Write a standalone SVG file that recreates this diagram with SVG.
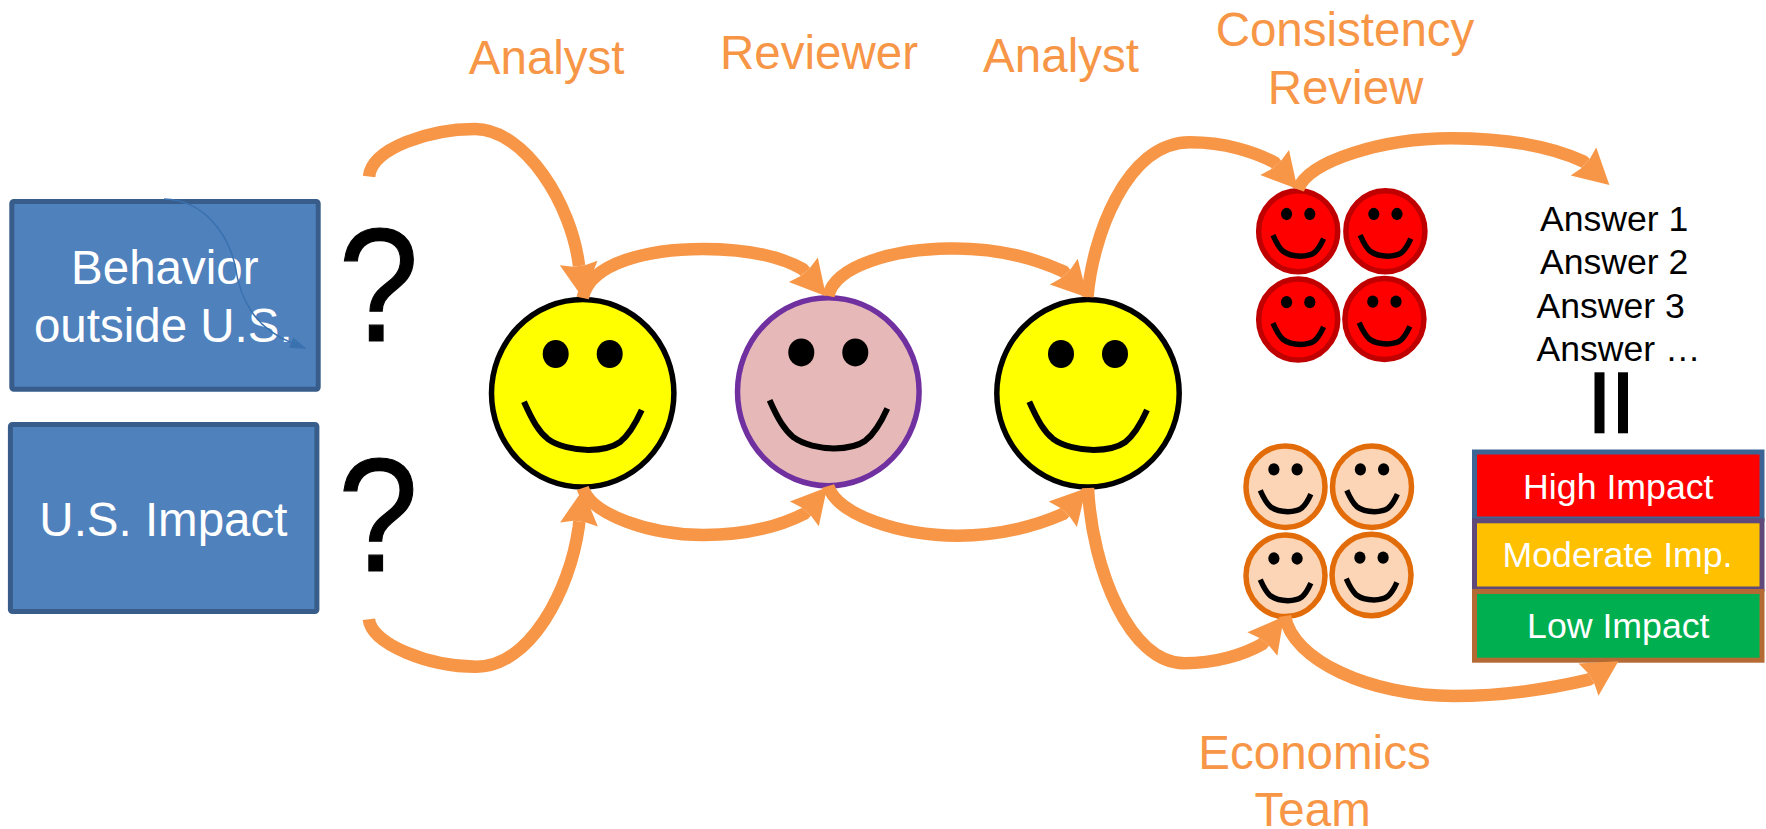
<svg xmlns="http://www.w3.org/2000/svg" xmlns:xlink="http://www.w3.org/1999/xlink" width="1766" height="829" viewBox="0 0 1766 829">
<style>
text{font-family:"Liberation Sans",Arial,sans-serif}
.lbl{fill:#f79646;font-size:47.5px;text-anchor:middle}
.box{fill:#4f81bd;stroke:#385d8a;stroke-width:5}
.boxt{fill:#fff;font-size:47.5px;text-anchor:middle}
.q{fill:#000;stroke:#000;stroke-width:1.2;font-size:162px;text-anchor:middle}
.ans{fill:#000;font-size:35.6px}
.imp{fill:#fff;font-size:35.7px;text-anchor:middle}
.mouth{fill:none;stroke:#000}
.big-f{stroke-width:6}
.small-f{stroke-width:12.5}
.yellow{fill:#ff0;stroke:#000;stroke-width:5.5}
.pink{fill:#e6b9b8;stroke:#7030a0;stroke-width:5.5}
.red{fill:#f00;stroke:#c00000;stroke-width:5.5}
.peach{fill:#fbd5b5;stroke:#e36c0a;stroke-width:5.5}
.conn{fill:none;stroke:#f79646;stroke-width:12.5;marker-end:url(#arrow)}
</style>
<defs>
<marker id="arrow" markerUnits="userSpaceOnUse" markerWidth="40" markerHeight="40" refX="3" refY="20" orient="auto" overflow="visible">
<path d="M0,1 L3,14 L3,26 L0,39 L35,20 Z" fill="#f79646"/>
</marker>
<marker id="thin" markerUnits="userSpaceOnUse" markerWidth="18" markerHeight="12" refX="1" refY="6" orient="auto">
<path d="M0,0.5 L17,6 L0,11.5 Z" fill="#3a72b0"/>
</marker>
<g id="features">
<ellipse cx="-27" cy="-39.3" rx="13" ry="14" stroke="none"/>
<ellipse cx="27" cy="-39.3" rx="13" ry="14" stroke="none"/>
<path class="mouth" d="M-58.7,8.5 C-50,28 -44,38 -35,45.5 C-25,53 -8,56.5 5.7,56.7 C20,56.5 30,54 37,49 C46,42 53,30 59,16.7"/>
</g>
</defs>
<rect width="1766" height="829" fill="#fff"/>

<g id="label-analyst-1"><text class="lbl" x="546.7" y="74">Analyst</text></g>
<g id="label-reviewer"><text class="lbl" x="819" y="69">Reviewer</text></g>
<g id="label-analyst-2"><text class="lbl" x="1061" y="71.7">Analyst</text></g>
<g id="label-consistency"><text class="lbl" x="1345" y="45.7">Consistency</text><text class="lbl" x="1345.5" y="103.7">Review</text></g>
<g id="label-economics"><text class="lbl" x="1314.5" y="769">Economics</text><text class="lbl" x="1312.7" y="826">Team</text></g>

<g id="box-behavior">
<rect class="box" x="11.8" y="201.5" width="306.4" height="187.7" rx="2"/>
<text class="boxt" x="164.8" y="284">Behavior</text>
<text class="boxt" x="163.3" y="341.7">outside U.S.</text>
<path d="M164,199 C205,200 228,235 235,265 C240,300 255,328 292,343" fill="none" stroke="#3a72b0" stroke-width="1.5" marker-end="url(#thin)"/>
</g>
<g id="box-impact">
<rect class="box" x="10.4" y="424.5" width="306.5" height="187" rx="2"/>
<text class="boxt" x="163.4" y="536">U.S. Impact</text>
</g>
<g id="question-1"><text class="q" transform="translate(378.5 341.2) scale(.89 1)">?</text></g>
<g id="question-2"><text class="q" transform="translate(378 571.2) scale(.89 1)">?</text></g>

<g id="face-analyst-1"><ellipse class="yellow" cx="582.7" cy="393.3" rx="91.2" ry="93.8"/><use class="big-f" href="#features" transform="translate(582.7 393.3)"/></g>
<g id="face-reviewer"><ellipse class="pink" cx="828.3" cy="391.7" rx="90.8" ry="94"/><use class="big-f" href="#features" transform="translate(828.3 391.7)"/></g>
<g id="face-analyst-2"><ellipse class="yellow" cx="1088" cy="393.3" rx="91.2" ry="93.8"/><use class="big-f" href="#features" transform="translate(1088 393.3)"/></g>

<g id="face-red-1"><ellipse class="red" cx="1298.2" cy="231.3" rx="39.5" ry="40.5"/><use class="small-f" href="#features" transform="translate(1298.2 231.3) scale(.43 .44)"/></g>
<g id="face-red-2"><ellipse class="red" cx="1385.4" cy="231.3" rx="39.5" ry="40.5"/><use class="small-f" href="#features" transform="translate(1385.4 231.3) scale(.43 .44)"/></g>
<g id="face-red-3"><ellipse class="red" cx="1298.2" cy="319.5" rx="39.5" ry="40.5"/><use class="small-f" href="#features" transform="translate(1298.2 319.5) scale(.43 .44)"/></g>
<g id="face-red-4"><ellipse class="red" cx="1384.4" cy="319" rx="39.5" ry="40.5"/><use class="small-f" href="#features" transform="translate(1384.4 319) scale(.43 .44)"/></g>

<g id="face-peach-1"><ellipse class="peach" cx="1285.5" cy="486.7" rx="39.5" ry="40.8"/><use class="small-f" href="#features" transform="translate(1285.5 486.7) scale(.43 .44)"/></g>
<g id="face-peach-2"><ellipse class="peach" cx="1372" cy="486.7" rx="39.5" ry="40.8"/><use class="small-f" href="#features" transform="translate(1372 486.7) scale(.43 .44)"/></g>
<g id="face-peach-3"><ellipse class="peach" cx="1285.5" cy="575.8" rx="39.5" ry="40.8"/><use class="small-f" href="#features" transform="translate(1285.5 575.8) scale(.43 .44)"/></g>
<g id="face-peach-4"><ellipse class="peach" cx="1371.5" cy="575" rx="39.5" ry="40.8"/><use class="small-f" href="#features" transform="translate(1371.5 575) scale(.43 .44)"/></g>

<g id="answers">
<text class="ans" x="1540" y="230.7">Answer 1</text>
<text class="ans" x="1540" y="274">Answer 2</text>
<text class="ans" x="1536.5" y="317.7">Answer 3</text>
<text class="ans" x="1536.5" y="360.7">Answer …</text>
<rect x="1594.5" y="372.3" width="10" height="61"/>
<rect x="1618" y="372.3" width="10" height="61"/>
</g>

<g id="impact-high"><rect x="1474.5" y="452" width="287.5" height="67" fill="#f00" stroke="#3c6494" stroke-width="5"/><text class="imp" x="1618.3" y="499.3">High Impact</text></g>
<g id="impact-moderate"><rect x="1474.5" y="520.8" width="287.5" height="68.2" fill="#ffc000" stroke="#5f497a" stroke-width="5"/><text class="imp" x="1617.5" y="567.3">Moderate Imp.</text></g>
<g id="impact-low"><rect x="1474.5" y="591.5" width="287.5" height="68.7" fill="#00b050" stroke="#b56a33" stroke-width="5"/><text class="imp" x="1618.3" y="638.3">Low Impact</text></g>

<g id="connectors">
<path class="conn" d="M369,176.5 C372,148 430,129 475,129 C525,129 572,205 579,266"/>
<path class="conn" d="M582.7,298 C590,262 650,249 703,249 C745,249 778,255 803,269.3 L805.3,272"/>
<path class="conn" d="M828.3,296 C835,265 895,249 950,248.5 C990,248 1030,256 1063.6,271.5 L1065.8,273.9"/>
<path class="conn" d="M1087.5,297 C1092,240 1125,142.3 1190,142.3 C1225,142.3 1255,152 1274.6,162.5 L1276.6,164.8"/>
<path class="conn" d="M1298,189.5 C1308,160 1385,138.3 1451,138.3 C1500,138.3 1548,145 1583.5,161.5 L1585.7,163.5"/>
<path class="conn" d="M368.8,619.3 C372,645 430,666.7 476.3,666.7 C530,666.7 570,590 578.7,527 L579.3,521.5"/>
<path class="conn" d="M582.7,488 C592,515 650,535 703.3,535 C745,535 778,527 804.5,513.6 L806.3,511.5"/>
<path class="conn" d="M828.2,486 C837,515 900,535.7 957.6,535.7 C995,535.7 1033,527 1063,514 L1064.8,512"/>
<path class="conn" d="M1088,488 C1092,570 1130,663.3 1184,663.3 C1215,663.3 1243,655 1262.4,644 L1264.2,641.7"/>
<path class="conn" d="M1285,616 C1292,660 1370,696 1453.6,696 C1500,696 1545,690 1588.5,679.7 L1591.1,678.1"/>
</g>
</svg>
